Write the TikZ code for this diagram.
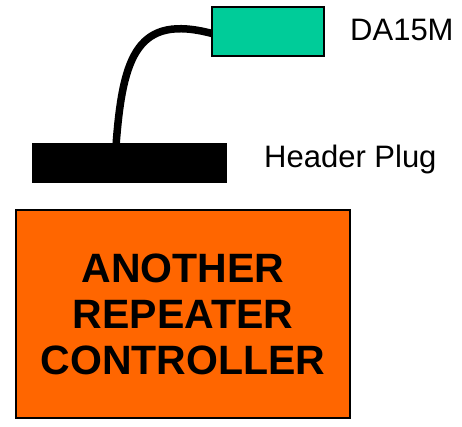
\documentclass[tikz,border=0pt]{standalone}
\usepackage{fontspec}
\setmainfont{Liberation Sans}
\usetikzlibrary{calc}
\definecolor{plugorange}{HTML}{FF6600}
\definecolor{dsubgreen}{HTML}{00CC99}

\begin{document}
\begin{tikzpicture}[x=1pt,y=1pt,
  box/.style={draw=black,inner sep=0pt,outer sep=0pt},
  lbl/.style={font=\fontsize{31}{36}\selectfont,anchor=base west,inner sep=0pt}]
  \useasboundingbox (0,0) rectangle (462,-427);
  \node[box,fill=dsubgreen,line width=1.3pt,minimum width=112pt,minimum height=49pt] (dsub) at (268,-31.5) {};
  \node[box,fill=black,minimum width=194pt,minimum height=39pt] (hdr) at (129,-162.5) {};
  \node[box,fill=plugorange,line width=1.5pt,minimum width=334pt,minimum height=208pt,
        align=center,font=\bfseries\fontsize{41}{46}\selectfont] (arc) at (183,-314)
        {ANOTHER\\REPEATER\\CONTROLLER};
  \coordinate (cable) at ($(hdr.north west)!0.434!(hdr.north east)$);
  \draw[line width=7.5pt] (cable) .. controls (123,-55) and (138,-14) .. ([yshift=-2pt]dsub.west);
  \node[lbl] (dsublbl) at (350,-41) {DA15M};
  \node[lbl] (hdrlbl) at (264,-168) {Header Plug};
\end{tikzpicture}
\end{document}
